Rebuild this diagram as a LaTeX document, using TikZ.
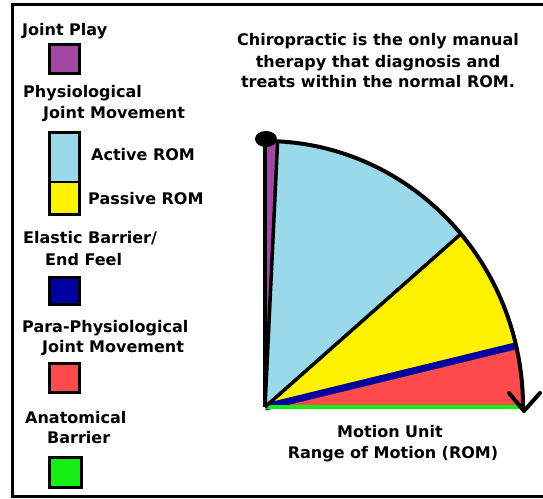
\documentclass[tikz,border=0pt]{standalone}
\usepackage{fontspec}
\setmainfont{DejaVu Sans}
\usetikzlibrary{calc}
\definecolor{cpurple}{RGB}{163,73,164}
\definecolor{cblue}{RGB}{153,217,234}
\definecolor{cyellow}{RGB}{255,242,0}
\definecolor{cdark}{RGB}{0,0,160}
\definecolor{cred}{RGB}{255,75,75}
\definecolor{cgreen}{RGB}{20,240,20}
\tikzset{
  legtext/.style={anchor=west,inner sep=0pt,text height=11.5bp,text depth=0pt,font=\fontsize{16bp}{19bp}\selectfont\bfseries},
  ctext/.style={anchor=center,inner sep=0pt,text height=11.5bp,text depth=0pt,font=\fontsize{16bp}{19bp}\selectfont\bfseries},
  swatch/.style={draw=black,line width=3bp},
  edge/.style={line width=3.5bp,black},
}
\begin{document}
\begin{tikzpicture}[x=1bp,y=1bp]
\useasboundingbox (0,0) rectangle (543,499);
\fill[white] (0,0) rectangle (543,499);
% frame
\draw[line width=3bp] (550,494) -- (12,494) -- (12,2) -- (550,2);
% legend
\node[legtext] (jp) at (22,469) {Joint Play};
\filldraw[swatch,fill=cpurple] (49,425) rectangle (79,454);
\node[legtext] (ph1) at (23,407) {Physiological};
\node[legtext] (ph2) at (43,386) {Joint Movement};
\fill[cblue] (49,317) rectangle (79,366);
\fill[cyellow] (49,284) rectangle (79,317);
\draw[swatch] (49,284) rectangle (79,366);
\draw[line width=2bp] (49,317) -- (79,317);
\node[legtext] (arom) at (91,344) {Active ROM};
\node[legtext] (prom) at (88,300) {Passive ROM};
\node[legtext] (eb1) at (23,261) {Elastic Barrier/};
\node[legtext] (eb2) at (45,239) {End Feel};
\filldraw[swatch,fill=cdark] (49,194) rectangle (79,221);
\node[legtext] (pp1) at (22,172) {Para-Physiological};
\node[legtext] (pp2) at (42,152) {Joint Movement};
\filldraw[swatch,fill=cred] (49,106) rectangle (79,135);
\node[legtext] (an1) at (25,81) {Anatomical};
\node[legtext] (an2) at (47,61) {Barrier};
\filldraw[swatch,fill=cgreen] (49,11) rectangle (81,41);
% title
\node[ctext] (t1) at (378,459) {Chiropractic is the only manual};
\node[ctext] (t2) at (378,437) {therapy that diagnosis and};
\node[ctext] (t3) at (378,417) {treats within the normal ROM.};
% bottom caption
\node[ctext] (m1) at (390,67) {Motion Unit};
\node[ctext] (m2) at (393,46) {Range of Motion (ROM)};
% wedge
\coordinate (C) at (265,92);
\def\rx{258bp}\def\ry{266bp}
\fill[cpurple] (C) -- ($(C)+(90:258 and 266)$) arc[start angle=90,end angle=87.2,x radius=\rx,y radius=\ry] -- cycle;
\fill[cblue] (C) -- ($(C)+(87.2:258 and 266)$) arc[start angle=87.2,end angle=40.6,x radius=\rx,y radius=\ry] -- cycle;
\fill[cyellow] (C) -- ($(C)+(40.6:258 and 266)$) arc[start angle=40.6,end angle=13.3,x radius=\rx,y radius=\ry] -- cycle;
\fill[cred] (C) -- ($(C)+(13.3:258 and 266)$) arc[start angle=13.3,end angle=0,x radius=\rx,y radius=\ry] -- cycle;
\coordinate (P1) at ($(C)+(87.2:258 and 266)$);
\coordinate (P2) at ($(C)+(40.6:258 and 266)$);
\coordinate (P3) at ($(C)+(13.3:258 and 266)$);
\coordinate (P4) at ($(C)+(0:258 and 266)$);
\coordinate (Top) at (265,359);
\coordinate (Tip) at (524,88);
\coordinate (BarbL) at (509,106);
\coordinate (BarbR) at (540,106);
\draw[cdark,line width=7bp] (C) -- (P3);
\draw[cgreen,line width=4bp] (C) -- (P4);
\draw[edge] (C) -- (P1);
\draw[edge] (C) -- (P2);
\draw[edge] (C) -- (Top);
\draw[line width=4bp] ($(C)+(89:258 and 266)$) arc[start angle=89,end angle=0,x radius=\rx,y radius=\ry] -- (Tip);
\draw[line width=4bp,line cap=round,line join=round] (BarbL) -- (Tip) -- (BarbR);
\fill[black] (266,360) ellipse[x radius=11bp,y radius=8bp];
\end{tikzpicture}
\end{document}
